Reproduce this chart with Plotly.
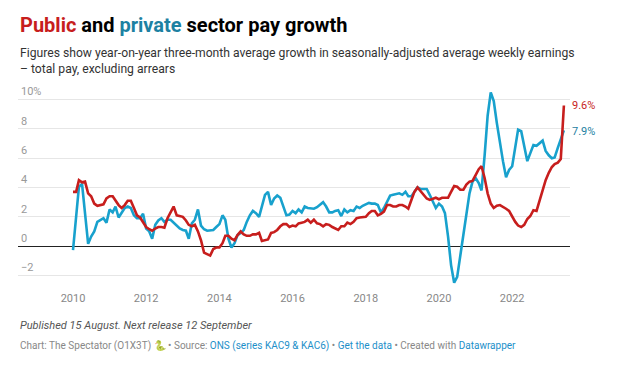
import pandas as pd
import plotly.graph_objects as go

W, H = 619, 369
START = "2010-01-01"
Y_TICKS = [-2, 0, 2, 4, 6, 8, 10]
Y_LABELS = ["−2", "0", "2", "4", "6", "8", "10%"]
X_TICKS = ["2010-01-01", "2012-01-01", "2014-01-01", "2016-01-01", "2018-01-01", "2020-01-01", "2022-01-01"]
X_LABELS = ["2010", "2012", "2014", "2016", "2018", "2020", "2022"]

public = [3.7,3.7,4.5,4.35,4.4,3.6,3.4,2.9,2.75,2.8,2.85,3.25,3.4,3.4,3.1,2.8,2.6,2.8,3.1,3.1,
          2.6,2.1,1.95,1.65,1.3,1.15,1.05,1.2,1.3,1.3,1.25,1.9,2.35,2.7,2.1,2.05,2.0,1.75,1.45,1.35,
          1.45,1.0,0.4,-0.45,-0.55,-0.65,-0.2,-0.1,-0.1,0.2,0.7,0.7,0.5,0.4,0.75,1.0,0.8,0.7,0.7,0.8,
          0.8,0.9,0.35,0.4,0.45,0.9,0.95,1.1,1.35,1.5,1.5,1.3,1.4,1.35,1.55,1.6,1.65,1.8,1.6,1.8,
          1.55,1.5,1.35,1.5,1.45,1.3,1.2,1.1,1.35,1.35,1.6,1.5,1.65,1.9,1.95,2.0,2.0,2.25,2.4,2.4,
          2.1,2.2,2.35,2.8,2.8,2.7,2.7,2.8,2.8,2.7,2.55,3.15,3.7,4.0,3.75,3.5,3.25,3.15,3.25,3.3,
          3.2,3.3,3.3,3.3,3.7,4.1,4.05,3.85,3.85,4.2,4.4,4.45,4.85,5.25,5.45,4.65,3.6,2.9,2.6,2.75,
          2.8,2.7,2.55,2.4,2.0,1.65,1.4,1.3,1.45,1.85,2.05,2.45,2.4,3.05,3.7,4.5,5.0,5.4,5.6,5.7,
          5.95,9.6]
private = [-0.27,1.9,4.05,4.25,2.2,0.15,0.65,1.0,1.65,1.8,1.9,1.6,2.5,2.3,2.7,1.95,2.25,2.6,2.7,2.6,
           2.1,1.9,1.9,2.2,1.2,1.0,0.5,1.45,1.75,1.9,1.65,1.8,1.8,1.6,1.4,1.2,1.1,1.05,0.5,1.55,
           1.8,2.5,1.4,1.15,1.05,1.1,1.1,1.3,1.5,2.1,1.8,0.5,-0.1,0.2,0.75,0.9,1.1,1.65,2.1,2.4,
           2.25,2.0,2.8,3.5,3.7,2.8,3.25,3.45,3.3,2.7,2.1,2.15,2.4,2.25,2.5,2.3,2.7,2.6,2.6,2.55,
           2.65,2.8,3.0,2.7,2.3,2.3,2.4,2.45,2.05,2.5,2.3,2.45,2.4,2.7,2.6,2.75,2.85,2.95,2.9,2.9,
           2.8,2.3,2.6,3.05,3.45,3.5,3.55,3.6,3.5,3.7,3.4,3.4,3.7,4.0,3.9,3.9,3.9,3.5,3.05,2.6,
           2.9,2.7,2.25,0.65,-1.3,-2.5,-2.1,-0.7,0.75,2.25,3.6,4.4,4.65,4.3,3.8,6.2,8.9,10.5,9.9,8.4,
           7.0,5.8,4.7,5.2,5.45,6.7,7.95,7.85,6.9,5.8,6.35,6.9,6.85,7.0,7.2,6.5,6.2,6.0,6.05,6.7,
           7.35,7.9]
months = pd.date_range(START, periods=len(public), freq="MS")

RED, BLUE = "#c71e1d", "#18a1cd"
RED_TXT, BLUE_TXT = "#c71e1d", "#1d81a2"
LINK = "#1d8fc9"
FONT = "Roboto"

fig = go.Figure()
fig.add_trace(go.Scatter(x=months, y=private, mode="lines", name="Private",
                         line=dict(color=BLUE, width=2.6), hoverinfo="skip"))
fig.add_trace(go.Scatter(x=months, y=public, mode="lines", name="Public",
                         line=dict(color=RED, width=2.6), hoverinfo="skip"))


def px_x(p):
    return p / W


def px_y(p):
    return 1 - p / H


def text(x_px, y_px, s, size, color="#333", **kw):
    fig.add_annotation(xref="paper", yref="paper", x=px_x(x_px), y=px_y(y_px), text=s,
                       showarrow=False, xanchor="left", yanchor="middle", align="left",
                       font=dict(family=FONT, size=size, color=color), borderpad=0, **kw)


text(19, 25, f'<b><span style="color:{RED_TXT}">Public</span> and '
             f'<span style="color:{BLUE_TXT}">private</span> sector pay growth</b>', 20, "#000")
text(19, 53, "Figures show year-on-year three-month average growth in seasonally-adjusted average weekly earnings", 12.16, "#333")
text(19, 69, "– total pay, excluding arrears", 12.16, "#333")
text(19, 325, "<i>Published 15 August. Next release 12 September</i>", 11, "#555")
text(19, 345, f'Chart: The Spectator (O1X3T) 🐍 • Source: <span style="color:{LINK}">ONS (series KAC9 &amp; KAC6)</span>'
              f' • <span style="color:{LINK}">Get the data</span> • Created with <span style="color:{LINK}">Datawrapper</span>',
     10, "#888")

fig.add_annotation(x=months[-1], y=public[-1], text=f"{public[-1]}%", showarrow=False, xanchor="left",
                   xshift=6, font=dict(family=FONT, size=11, color=RED_TXT))
fig.add_annotation(x=months[-1], y=private[-1], text=f"{private[-1]:.1f}%", showarrow=False, xanchor="left",
                   xshift=6, yshift=-1, font=dict(family=FONT, size=11, color=BLUE_TXT))

fig.update_layout(
    width=W, height=H, autosize=False, margin=dict(l=0, r=0, t=0, b=0),
    paper_bgcolor="white", plot_bgcolor="white", showlegend=False,
    font=dict(family=FONT),
    xaxis=dict(domain=[px_x(18), px_x(570)], range=["2008-07-01", "2023-08-01"], tickmode="array",
               tickvals=X_TICKS, ticktext=X_LABELS, showgrid=False, showline=False, zeroline=False,
               ticks="", tickfont=dict(family=FONT, size=11, color="#888")),
    yaxis=dict(domain=[px_y(290), px_y(85)], range=[-3, 11], tickmode="array", tickvals=Y_TICKS,
               ticktext=Y_LABELS, showgrid=True, gridcolor="#e6e6e6", gridwidth=1,
               zeroline=True, zerolinecolor="#222", zerolinewidth=1, showline=False, ticks="",
               ticklabelposition="inside", ticklabelshift=-8,
               tickfont=dict(family=FONT, size=11, color="#999")),
)
fig.write_html("out.html", config={"displayModeBar": False},
               post_script="document.body.style.margin='0';document.documentElement.style.overflow='hidden';")
